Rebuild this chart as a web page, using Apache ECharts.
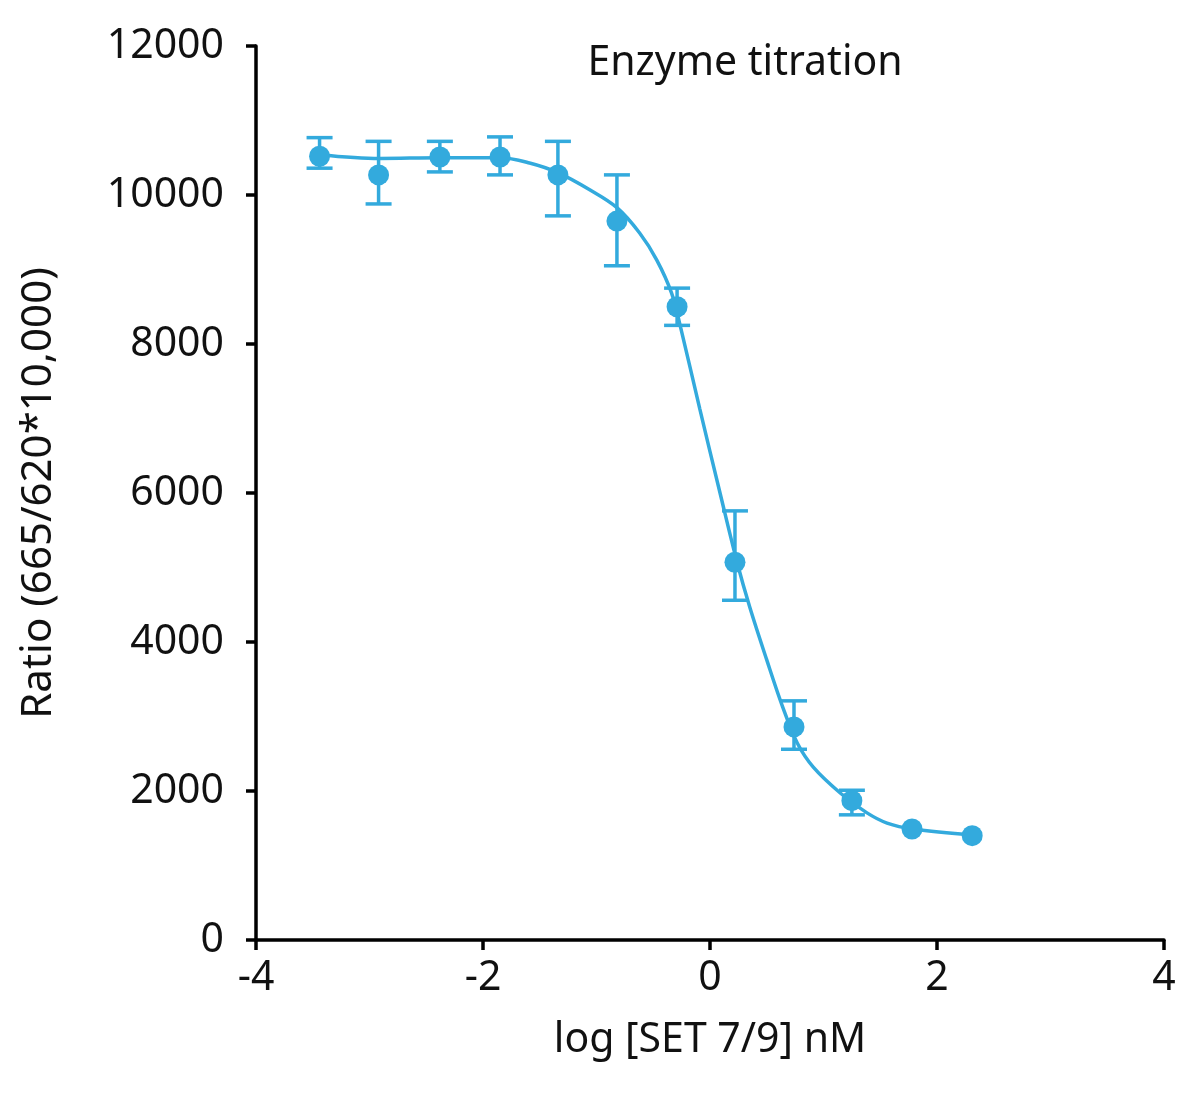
<!DOCTYPE html>
<html>
<head>
<meta charset="utf-8">
<script src="https://cdn.jsdelivr.net/npm/echarts@6/dist/echarts.min.js"></script>
<style>
  html, body { margin: 0; padding: 0; background: #fff; }
  #chart { width: 1200px; height: 1104px; }
</style>
</head>
<body>
<div id="chart"></div>
<script>
// measured points (log conc, ratio)
const logConc = [-3.44, -2.92, -2.38, -1.85, -1.34, -0.82, -0.29, 0.22, 0.74, 1.25, 1.78, 2.31]
const ratio = [10520, 10270, 10510, 10510, 10270, 9650, 8500, 5070, 2860, 1870, 1490, 1400]
const errLow = [10360, 9880, 10310, 10270, 9720, 9050, 8250, 4560, 2560, 1680, null, null]
const errHigh = [10770, 10720, 10720, 10780, 10720, 10270, 8750, 5760, 3210, 2010, null, null]

// fitted curve
const fitX = [-3.44, -2.91, -2.38, -1.85, -1.59, -1.34, -1.06, -0.82, -0.62, -0.47, -0.34, -0.26, -0.09, 0.09, 0.24, 0.35, 0.50, 0.64, 0.77, 0.91, 1.15, 1.38, 1.56, 1.79, 2.32]
const fitY = [10540, 10490, 10500, 10500, 10430, 10300, 10070, 9830, 9490, 9130, 8690, 8230, 7130, 5990, 5060, 4470, 3760, 3130, 2640, 2320, 1970, 1710, 1570, 1490, 1410]

const xTicks = [-4, -2, 0, 2, 4]
const yTicks = [0, 2000, 4000, 6000, 8000, 10000, 12000]

const blue = '#33aadd'
const font = 'Noto Sans'
const fs = 41

const chart = echarts.init(document.getElementById('chart'))

const points = logConc.map((x, i) => [x, ratio[i]])
const bars = logConc.map((x, i) => [x, errLow[i], errHigh[i]]).filter(d => d[1] != null)
const fit = fitX.map((x, i) => [x, fitY[i]])

const option = {
  animation: false,
  title: {
    text: 'Enzyme titration',
    left: 740,
    textAlign: 'center',
    top: 38,
    textStyle: { fontFamily: font, fontSize: fs, fontWeight: 'normal', color: '#111' }
  },
  grid: { left: 256, right: 36, top: 46, bottom: 164, containLabel: false },
  xAxis: {
    type: 'value',
    min: xTicks[0],
    max: xTicks[xTicks.length - 1],
    interval: 2,
    name: 'log [SET 7/9] nM',
    nameLocation: 'middle',
    nameGap: 80,
    nameTextStyle: { fontFamily: font, fontSize: fs, color: '#111' },
    axisLine: { onZero: false, lineStyle: { color: '#000', width: 3.5 } },
    axisTick: { show: true, length: 10, lineStyle: { color: '#000', width: 3.5 } },
    axisLabel: { fontFamily: font, fontSize: fs, color: '#111', margin: 18 },
    splitLine: { show: false }
  },
  yAxis: {
    type: 'value',
    min: yTicks[0],
    max: yTicks[yTicks.length - 1],
    interval: 2000,
    name: 'Ratio (665/620*10,000)',
    nameLocation: 'middle',
    nameGap: 196,
    nameTextStyle: { fontFamily: font, fontSize: fs + 1, color: '#111' },
    axisLine: { show: true, onZero: false, lineStyle: { color: '#000', width: 3.5 } },
    axisTick: { show: true, length: 10, lineStyle: { color: '#000', width: 3.5 } },
    axisLabel: { fontFamily: font, fontSize: fs, color: '#111', margin: 32, formatter: v => String(v) },
    splitLine: { show: false }
  },
  series: [
    {
      type: 'line',
      data: fit,
      smooth: 0.35,
      showSymbol: false,
      lineStyle: { color: blue, width: 3.5 },
      z: 2
    },
    {
      type: 'custom',
      data: bars,
      renderItem: function (params, api) {
        const x = api.value(0)
        const lo = api.coord([x, api.value(1)])
        const hi = api.coord([x, api.value(2)])
        const half = 13
        const style = { stroke: blue, lineWidth: 3.5 }
        return {
          type: 'group',
          children: [
            { type: 'line', shape: { x1: lo[0], y1: lo[1], x2: hi[0], y2: hi[1] }, style: style },
            { type: 'line', shape: { x1: lo[0] - half, y1: lo[1], x2: lo[0] + half, y2: lo[1] }, style: style },
            { type: 'line', shape: { x1: hi[0] - half, y1: hi[1], x2: hi[0] + half, y2: hi[1] }, style: style }
          ]
        }
      },
      z: 3
    },
    {
      type: 'scatter',
      data: points,
      symbol: 'circle',
      symbolSize: 21,
      itemStyle: { color: blue, opacity: 1 },
      z: 4
    }
  ]
}

chart.setOption(option)
</script>
</body>
</html>
